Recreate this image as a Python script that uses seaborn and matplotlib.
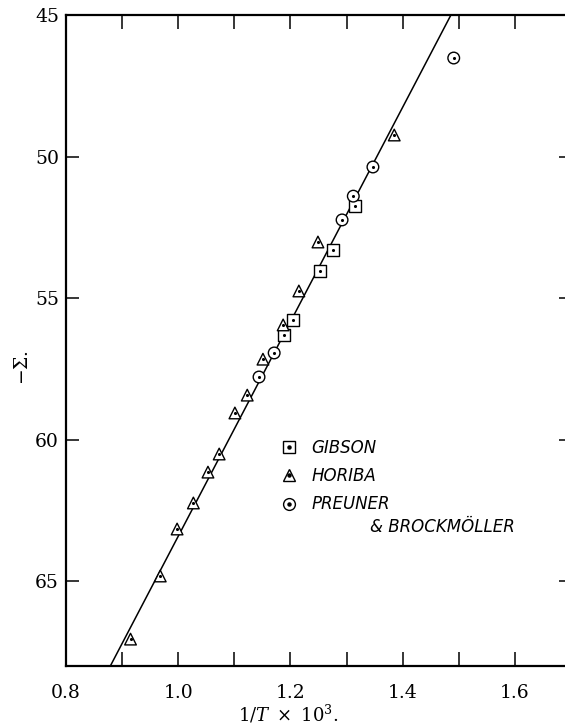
import numpy as np
import pandas as pd
import matplotlib
matplotlib.use('Agg')
import matplotlib.pyplot as plt
from matplotlib.lines import Line2D
from matplotlib.legend_handler import HandlerTuple
from matplotlib.ticker import MultipleLocator, FormatStrFormatter
import seaborn as sns

sns.set_style('ticks')
plt.rcParams['font.family'] = ['DejaVu Serif']
plt.rcParams['mathtext.fontset'] = 'dejavuserif'
plt.rcParams['text.color'] = 'black'
plt.rcParams['axes.labelcolor'] = 'black'
plt.rcParams['xtick.color'] = 'black'
plt.rcParams['ytick.color'] = 'black'
plt.rcParams['axes.edgecolor'] = 'black'

# data (x = 1/T x 10^3, y = -Sigma)
gibson_x = [1.315, 1.276, 1.253, 1.205, 1.189]
gibson_y = [51.75, 53.30, 54.05, 55.78, 56.31]
horiba_x = [1.385, 1.249, 1.215, 1.187, 1.151, 1.123, 1.101, 1.073, 1.053, 1.027, 0.998, 0.968, 0.915]
horiba_y = [49.24, 53.02, 54.75, 55.95, 57.16, 58.43, 59.06, 60.51, 61.15, 62.24, 63.16, 64.82, 67.05]
preuner_x = [1.491, 1.347, 1.312, 1.292, 1.171, 1.144]
preuner_y = [46.52, 50.37, 51.40, 52.24, 56.94, 57.79]
line_x = [0.879, 1.486]
line_y = [68.0, 45.0]

df = pd.concat([
    pd.DataFrame({'x': gibson_x, 'y': gibson_y, 'src': 'GIBSON'}),
    pd.DataFrame({'x': horiba_x, 'y': horiba_y, 'src': 'HORIBA'}),
    pd.DataFrame({'x': preuner_x, 'y': preuner_y, 'src': 'PREUNER'}),
], ignore_index=True)
marker_map = {'GIBSON': 's', 'HORIBA': '^', 'PREUNER': 'o'}

fig = plt.figure(figsize=(5.65, 7.27), dpi=100)
ax = fig.add_axes([66 / 565, 1 - 666 / 727, 505 / 565, 651 / 727])

ax.plot(line_x, line_y, color='black', lw=1.1, zorder=1)
sns.scatterplot(data=df, x='x', y='y', style='src', markers=marker_map, s=70,
                facecolor='white', edgecolor='black', linewidth=1.0,
                legend=False, ax=ax, zorder=2)
sns.scatterplot(data=df, x='x', y='y', marker='o', s=5, color='black',
                linewidth=0, legend=False, ax=ax, zorder=3)

ax.set_xlim(0.8, 1.7)
ax.set_ylim(68, 45)
ax.xaxis.set_major_locator(MultipleLocator(0.2))
ax.xaxis.set_minor_locator(MultipleLocator(0.1))
ax.xaxis.set_major_formatter(FormatStrFormatter('%.1f'))
ax.set_yticks([45, 50, 55, 60, 65])

ax.tick_params(axis='x', which='both', direction='in', top=True, bottom=True,
               length=10, width=1.1, labelsize=13.5, pad=13)
ax.tick_params(axis='y', which='both', direction='in', left=True, right=True,
               length=9, width=1.1, labelsize=13.5, pad=5)
for sp in ax.spines.values():
    sp.set_linewidth(1.6)

ax.set_xlabel(r'$1/T\ \times\ 10^3$.', fontsize=13)
ax.xaxis.set_label_coords(0.44, -0.057)
ax.set_ylabel(r'$-\Sigma$.', fontsize=13.5)
ax.yaxis.set_label_coords(-0.068, 0.459)

def mk(m):
    return (Line2D([], [], ls='none', marker=m, ms=8.5, mfc='white', mec='black', mew=1.0),
            Line2D([], [], ls='none', marker='o', ms=2.2, mfc='black', mec='black'))

handles = [mk(marker_map[k]) for k in ['GIBSON', 'HORIBA', 'PREUNER']]
leg = ax.legend(handles, ['GIBSON', 'HORIBA', 'PREUNER'],
                handler_map={tuple: HandlerTuple(ndivide=1)},
                loc='upper left', bbox_to_anchor=(0.425, 0.349),
                frameon=False, borderpad=0, borderaxespad=0,
                handlelength=1.0, handletextpad=0.86, labelspacing=0.62,
                prop={'family': 'DejaVu Sans', 'style': 'italic', 'size': 12})
ax.text(0.602, 0.2135, '& BROCKMÖLLER', transform=ax.transAxes, ha='left', va='center',
        family='DejaVu Sans', style='italic', fontsize=12)

fig.savefig('out.png', dpi=100)
